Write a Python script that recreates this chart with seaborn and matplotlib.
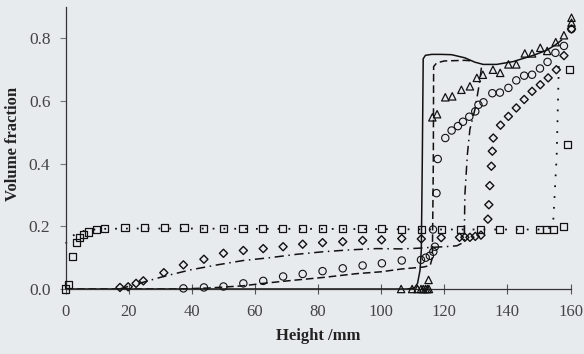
import matplotlib
matplotlib.use("Agg")
import matplotlib.pyplot as plt
import seaborn as sns
import pandas as pd

# ---------------- data ----------------
# squares
sq_x = [0, 1.0, 2.1, 3.5, 4.5, 5.6, 7.2, 9.8, 12.2, 18.8, 25.0, 31.2, 37.5, 43.8, 50.0,
        56.2, 62.5, 68.8, 75.0, 81.3, 87.6, 93.9, 100.1, 106.4, 112.7, 119.1, 125.0,
        131.4, 137.6, 143.9, 150.1, 152.4, 154.7, 157.7, 158.9, 159.8]
sq_y = [0.0, 0.015, 0.104, 0.148, 0.165, 0.175, 0.182, 0.189, 0.193, 0.196, 0.196, 0.196,
        0.195, 0.194, 0.194, 0.194, 0.193, 0.193, 0.193, 0.193, 0.192, 0.192, 0.192, 0.191,
        0.191, 0.191, 0.19, 0.19, 0.19, 0.19, 0.19, 0.19, 0.19, 0.20, 0.46, 0.70]
# circles
ci_x = [37.3, 43.8, 50.0, 56.3, 62.6, 68.9, 75.1, 81.4, 87.8, 94.1, 100.2, 106.5, 112.6,
        114.1, 115.4, 116.5, 117.0, 116.4, 117.5, 117.9, 120.3, 122.3, 124.3, 125.9, 127.9,
        129.8, 130.8, 132.4, 135.2, 137.6, 140.3, 142.8, 145.3, 147.8, 150.3, 152.7, 155.2,
        157.9, 160.3]
ci_y = [0.002, 0.005, 0.008, 0.018, 0.026, 0.04, 0.048, 0.057, 0.066, 0.075, 0.082, 0.091,
        0.093, 0.10, 0.106, 0.119, 0.135, 0.19, 0.306, 0.415, 0.482, 0.506, 0.52, 0.534,
        0.55, 0.567, 0.588, 0.596, 0.625, 0.627, 0.642, 0.666, 0.681, 0.684, 0.704, 0.725,
        0.754, 0.776, 0.83]
# diamonds
di_x = [17.2, 19.8, 22.3, 24.6, 31.1, 37.3, 43.8, 50.0, 56.3, 62.6, 68.9, 75.1, 81.4, 87.8,
        94.1, 100.1, 106.5, 112.7, 119.0, 124.8, 126.5, 128.1, 129.8, 131.6, 133.8, 134.1,
        134.4, 134.9, 135.2, 135.5, 137.8, 140.3, 142.8, 145.3, 147.8, 150.4, 152.9, 155.5,
        157.9, 160.3]
di_y = [0.005, 0.007, 0.018, 0.026, 0.052, 0.077, 0.095, 0.114, 0.123, 0.129, 0.135, 0.143,
        0.148, 0.151, 0.155, 0.157, 0.161, 0.16, 0.164, 0.165, 0.165, 0.165, 0.168, 0.172,
        0.223, 0.269, 0.33, 0.392, 0.44, 0.482, 0.523, 0.551, 0.578, 0.605, 0.631, 0.652,
        0.674, 0.70, 0.745, 0.83]
# triangles
tr_x = [106.3, 109.8, 111.5, 112.6, 113.3, 114.0, 114.6, 115.1, 115.0, 116.2, 117.7, 120.3,
        122.5, 125.4, 128.1, 130.3, 132.2, 135.4, 137.7, 140.3, 142.8, 145.5, 147.8, 150.4,
        152.6, 155.3, 157.9, 160.3, 160.3]
tr_y = [0, 0, 0, 0, 0, 0, 0, 0, 0.029, 0.548, 0.558, 0.612, 0.615, 0.636, 0.647, 0.674,
        0.684, 0.70, 0.69, 0.717, 0.717, 0.752, 0.752, 0.77, 0.76, 0.788, 0.81, 0.85, 0.866]

# model curves
solid_x = [0, 108, 110.5, 111.5, 112.3, 112.7, 113.0, 113.3, 114.0, 116, 119, 122.3, 126.5,
           129.7, 132.3, 136.6, 141.8, 145, 148.2, 152.4, 155, 157.2]
solid_y = [0, 0, 0.003, 0.018, 0.06, 0.125, 0.4, 0.735, 0.746, 0.749, 0.749, 0.748, 0.738,
           0.724, 0.717, 0.717, 0.726, 0.736, 0.746, 0.762, 0.778, 0.795]
dash_x = [0, 35, 45, 56, 62.6, 71.3, 81.7, 92.2, 100, 106.5, 113.3, 115.5, 116.2, 116.5,
          116.6, 117.6, 120, 126.5, 129]
dash_y = [0, 0, 0.003, 0.01, 0.018, 0.027, 0.037, 0.049, 0.055, 0.064, 0.07, 0.075, 0.1,
          0.4, 0.71, 0.722, 0.728, 0.73, 0.728]
dashdot_x = [17, 24, 31, 39.5, 48, 56.3, 64.7, 73.4, 81.7, 90.1, 98.5, 106.5, 111.4, 116,
             120.2, 124, 126.3, 126.5, 127.3, 128.1, 129.7, 130.8, 131.3, 131.8]
dashdot_y = [0.0, 0.02, 0.04, 0.061, 0.077, 0.091, 0.10, 0.111, 0.119, 0.125, 0.129, 0.128,
             0.13, 0.133, 0.135, 0.138, 0.15, 0.3, 0.43, 0.51, 0.574, 0.638, 0.67, 0.712]
dot_x = [0, 1, 2, 3, 4.5, 6, 8, 12, 20, 40, 60, 80, 100, 120, 140, 150, 153.5, 154.5,
         155.6, 156.3, 156.6]
dot_y = [0.145, 0.158, 0.168, 0.175, 0.182, 0.186, 0.189, 0.192, 0.193, 0.193, 0.192,
         0.192, 0.191, 0.190, 0.190, 0.190, 0.195, 0.215, 0.425, 0.722, 0.74]

x_ticks = [0, 20, 40, 60, 80, 100, 120, 140, 160]
y_ticks = [0.0, 0.2, 0.4, 0.6, 0.8]
x_label = "Height /mm"
y_label = "Volume fraction"

# ---------------- styling ----------------
bg = "#e8ebee"
sns.set_style("ticks")
plt.rcParams["font.family"] = ["Liberation Serif", "DejaVu Serif"]
plt.rcParams["axes.facecolor"] = bg
plt.rcParams["figure.facecolor"] = bg

fig = plt.figure(figsize=(5.84, 3.54), dpi=100)
ax = fig.add_axes([0.1125, 0.1836, 0.8645, 0.7964])

lines = [
    (solid_x, solid_y, "-"),
    (dash_x, dash_y, (0, (5, 2.5))),
    (dashdot_x, dashdot_y, (0, (6, 3, 1, 3))),
    (dot_x, dot_y, (0, (1, 5))),
]
for xs, ys, ls in lines:
    df = pd.DataFrame({"x": xs, "y": ys})
    sns.lineplot(data=df, x="x", y="y", sort=False, estimator=None, ax=ax,
                 color="#111111", linewidth=1.1 if ls != (0, (1, 5)) else 1.3,
                 linestyle=ls)

markers = [
    (sq_x, sq_y, "s", 26, 0.9),
    (ci_x, ci_y, "o", 28, 0.8),
    (di_x, di_y, "D", 17, 1.0),
    (tr_x, tr_y, "^", 28, 0.9),
]
for xs, ys, m, s, lw in markers:
    df = pd.DataFrame({"x": xs, "y": ys})
    sns.scatterplot(data=df, x="x", y="y", marker=m, s=s, ax=ax,
                    facecolor="none", edgecolor="#111111", linewidth=lw,
                    zorder=3)
for coll in ax.collections:
    coll.set_clip_on(False)
for ln in ax.lines:
    ln.set_clip_on(False)

ax.set_xlim(0, 160)
ax.set_ylim(0, 0.9)
ax.set_xticks(x_ticks)
ax.set_yticks(y_ticks)
ax.set_xticklabels([str(t) for t in x_ticks])
ax.set_yticklabels([f"{t:.1f}" for t in y_ticks])
sns.despine(ax=ax)
for sp in ("left", "bottom"):
    ax.spines[sp].set_linewidth(0.9)
    ax.spines[sp].set_color("#333333")
ax.tick_params(axis="x", direction="inout", length=7, width=0.8, color="#555555",
               labelsize=12, labelcolor="#444444", pad=7)
ax.tick_params(axis="y", direction="out", length=4, width=0.8, color="#777777",
               labelsize=12.5, labelcolor="#444444", pad=7)
ax.set_xlabel(x_label, fontsize=12, fontweight="bold", color="#222222", labelpad=6)
ax.set_ylabel("")
fig.text(13 / 584, 1 - 144 / 354, y_label, rotation=90, ha="center", va="center",
         fontsize=12, fontweight="bold", color="#222222")

fig.savefig("out.png", dpi=100, facecolor=bg)
